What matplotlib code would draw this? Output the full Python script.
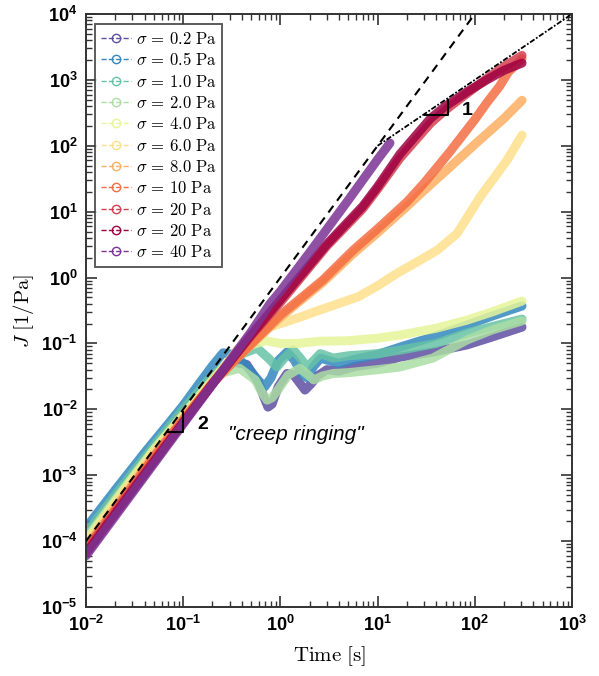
import numpy as np
import matplotlib
matplotlib.use("Agg")
import matplotlib.pyplot as plt
from matplotlib.lines import Line2D
from matplotlib.font_manager import FontProperties
from matplotlib.ticker import FuncFormatter, LogLocator, NullFormatter, FixedLocator

plt.rcParams['mathtext.fontset'] = 'custom'
plt.rcParams['mathtext.rm'] = 'Liberation Sans'
plt.rcParams['mathtext.it'] = 'Liberation Sans:italic'
plt.rcParams['mathtext.bf'] = 'Liberation Sans:bold'

# ---- creep compliance J(t) for each applied stress ----
t_s02 = [0.01, 0.02, 0.05, 0.1, 0.2, 0.325, 0.45, 0.6, 0.68, 0.745, 0.82, 0.95, 1.17, 1.35, 1.55, 1.79, 2.05, 2.4, 3.0, 4.0, 6.0, 10, 17, 37, 83, 150, 306]
J_s02 = [1.1e-4, 4.2e-4, 2.5e-3, 9e-3, 0.03, 0.052, 0.048, 0.025, 0.015, 0.0108, 0.012, 0.022, 0.035, 0.034, 0.026, 0.0196, 0.024, 0.032, 0.04, 0.038, 0.045, 0.05, 0.062, 0.074, 0.095, 0.125, 0.177]

t_s05 = [0.01, 0.02, 0.04, 0.07, 0.1, 0.15, 0.2, 0.257, 0.33, 0.45, 0.6, 0.69, 0.8, 0.95, 1.17, 1.4, 1.65, 1.88, 2.2, 2.6, 3.0, 4.0, 6.0, 10, 17, 40, 83, 150, 306]
J_s05 = [1.6e-4, 6e-4, 2.2e-3, 6e-3, 0.0115, 0.026, 0.046, 0.072, 0.068, 0.045, 0.027, 0.022, 0.03, 0.055, 0.074, 0.055, 0.035, 0.03, 0.045, 0.06, 0.056, 0.05, 0.058, 0.068, 0.088, 0.13, 0.19, 0.26, 0.37]

t_s1 = [0.01, 0.02, 0.05, 0.1, 0.2, 0.38, 0.575, 0.75, 0.92, 1.1, 1.35, 1.6, 1.88, 2.2, 2.57, 3.5, 5, 10, 17, 40, 83, 150, 306]
J_s1 = [1.3e-4, 5e-4, 2.8e-3, 0.01, 0.033, 0.067, 0.085, 0.06, 0.044, 0.06, 0.08, 0.06, 0.044, 0.055, 0.07, 0.06, 0.065, 0.07, 0.079, 0.1, 0.144, 0.18, 0.234]

t_s2 = [0.01, 0.02, 0.05, 0.1, 0.24, 0.38, 0.55, 0.66, 0.73, 0.82, 0.95, 1.2, 1.58, 1.9, 2.2, 2.7, 3.5, 5, 10, 17, 37, 83, 150, 306]
J_s2 = [1.1e-4, 4.3e-4, 2.5e-3, 8.5e-3, 0.035, 0.042, 0.028, 0.017, 0.0138, 0.015, 0.02, 0.033, 0.042, 0.034, 0.028, 0.032, 0.035, 0.036, 0.04, 0.044, 0.06, 0.113, 0.16, 0.22]

t_s4 = [0.01, 0.02, 0.05, 0.1, 0.2, 0.3, 0.45, 0.7, 1.0, 1.5, 2.5, 5, 10, 17, 40, 83, 150, 306]
J_s4 = [1.0e-4, 4e-4, 2.4e-3, 8e-3, 0.028, 0.055, 0.09, 0.11, 0.1, 0.1, 0.108, 0.11, 0.12, 0.134, 0.17, 0.226, 0.3, 0.44]

t_s6 = [0.01, 0.02, 0.05, 0.1, 0.2, 0.36, 0.62, 1.0, 1.58, 3.0, 6.3, 10, 16, 25, 41, 66, 113, 214, 306]
J_s6 = [9e-5, 3.6e-4, 2.2e-3, 7.5e-3, 0.026, 0.08, 0.16, 0.2, 0.25, 0.35, 0.51, 0.75, 1.17, 1.7, 2.6, 4.7, 16.6, 60, 145]

t_s8 = [0.01, 0.02, 0.05, 0.1, 0.2, 0.38, 1.0, 2.74, 5.6, 10, 20, 30, 47, 100, 200, 306]
J_s8 = [8e-5, 3.2e-4, 2e-3, 7e-3, 0.025, 0.065, 0.25, 0.85, 2.3, 4.8, 12, 21, 38, 105, 260, 490]

t_s10 = [0.01, 0.02, 0.05, 0.1, 0.2, 0.38, 1.0, 2.74, 5.6, 10, 20, 30, 55, 100, 133, 180, 220, 306]
J_s10 = [7.5e-5, 3e-4, 1.9e-3, 7e-3, 0.025, 0.066, 0.27, 0.92, 2.6, 5.5, 14, 27, 80, 250, 450, 800, 1300, 2100]

t_s20a = [0.01, 0.02, 0.05, 0.1, 0.2, 0.5, 1.0, 3.0, 7.0, 10, 17, 35, 50, 83, 133, 200, 306]
J_s20a = [7e-5, 2.8e-4, 1.7e-3, 6.5e-3, 0.025, 0.13, 0.42, 3.0, 11, 22, 65, 220, 350, 620, 1050, 1600, 2350]

t_s20b = [0.01, 0.02, 0.05, 0.1, 0.2, 0.5, 1.0, 3.0, 7.0, 10, 17, 35, 50, 83, 133, 200, 306]
J_s20b = [6.5e-5, 2.6e-4, 1.6e-3, 6.3e-3, 0.024, 0.135, 0.46, 3.2, 12, 24, 75, 260, 400, 660, 1000, 1400, 1800]

t_s40 = [0.01, 0.02, 0.05, 0.1, 0.2, 0.5, 0.78, 1.0, 2.0, 5.0, 10, 13.4]
J_s40 = [6e-5, 2.4e-4, 1.5e-3, 6e-3, 0.024, 0.15, 0.4, 0.62, 2.4, 15, 62, 110]

stress_labels = ["0.2", "0.5", "1.0", "2.0", "4.0", "6.0", "8.0", "10", "20", "20", "40"]
colors = ["#5e4fa2", "#3288bd", "#66c2a5", "#abdda4", "#e6f598", "#fee08b",
          "#fdae61", "#f46d43", "#d53e4f", "#9e0142", "#7b3294"]

x_ticks = [1e-2, 1e-1, 1e0, 1e1, 1e2, 1e3]
y_ticks = [1e-5, 1e-4, 1e-3, 1e-2, 1e-1, 1e0, 1e1, 1e2, 1e3, 1e4]

# guide lines: ballistic J ~ t^2 and viscous J ~ t
guide2_t = [0.01, 100]
guide2_J = [1e-4, 1e4]
guide1_t = [10, 1000]
guide1_J = [100, 1e4]

series = [(t_s02, J_s02), (t_s05, J_s05), (t_s1, J_s1), (t_s2, J_s2), (t_s4, J_s4),
          (t_s6, J_s6), (t_s8, J_s8), (t_s10, J_s10), (t_s20a, J_s20a),
          (t_s20b, J_s20b), (t_s40, J_s40)]

fig = plt.figure(figsize=(5.99, 6.76), dpi=100)
ax = fig.add_axes([86 / 599, 69 / 676, 486 / 599, 593 / 676])

for (t, J), c in zip(series, colors):
    ax.plot(t, J, color=c, lw=6.5, alpha=0.85, solid_capstyle='round',
            solid_joinstyle='round')

ax.plot(guide2_t, guide2_J, color='black', ls=(0, (4, 3)), lw=1.5, zorder=5)
ax.plot(guide1_t, guide1_J, color='black', ls=(0, (3, 1, 1, 1)), lw=1.3, zorder=5)

# slope triangles
ax.plot([0.07, 0.1, 0.1], [0.0045, 0.0045, 0.0092], color='black', lw=1.5, zorder=6)
ax.text(0.16, 0.0058, "2", fontsize=14, fontweight='bold', family='Liberation Sans',
        ha='center', va='center')
ax.plot([30.8, 53, 53], [292, 292, 500], color='black', lw=1.5, zorder=6)
ax.text(83, 347, "1", fontsize=14, fontweight='bold', family='Liberation Sans',
        ha='center', va='center')
ax.text(0.29, 0.0041, '"creep ringing"', fontsize=15, style='italic',
        family='Liberation Sans', ha='left', va='center')

ax.set_xscale('log')
ax.set_yscale('log')
ax.set_xlim(1e-2, 1e3)
ax.set_ylim(1e-5, 1e4)

fmt = FuncFormatter(lambda v, p: r"$\mathbf{10^{%d}}$" % int(round(np.log10(v))))
ax.xaxis.set_major_locator(FixedLocator(x_ticks))
ax.yaxis.set_major_locator(FixedLocator(y_ticks))
ax.xaxis.set_minor_locator(LogLocator(base=10, subs=np.arange(2, 10), numticks=20))
ax.yaxis.set_minor_locator(LogLocator(base=10, subs=np.arange(2, 10), numticks=20))
ax.xaxis.set_major_formatter(fmt)
ax.yaxis.set_major_formatter(fmt)
ax.xaxis.set_minor_formatter(NullFormatter())
ax.yaxis.set_minor_formatter(NullFormatter())
ax.tick_params(which='both', direction='in', top=True, right=True, labelsize=13,
               color='#333333')
ax.tick_params(which='major', length=8, width=1.2, pad=6)
ax.tick_params(which='minor', length=4, width=1.0)
for s in ax.spines.values():
    s.set_color('#333333')
    s.set_linewidth(1.4)

ax.set_xlabel(r"$\mathrm{Time\ [s]}$", fontsize=15, math_fontfamily='cm', labelpad=6)
ax.set_ylabel(r"$J\ \mathrm{[1/Pa]}$", fontsize=15, math_fontfamily='cm', labelpad=4)

handles = [Line2D([], [], color=c, ls='--', lw=1.0, marker='o', mfc='none',
                  ms=6, mew=1.0) for c in colors]
labels = [r"$\sigma\,=\,\mathrm{%s\ Pa}$" % s for s in stress_labels]
leg = ax.legend(handles, labels, loc='upper left', bbox_to_anchor=(0.0185, 0.983),
                borderaxespad=0, frameon=True, fancybox=False, edgecolor='#333333',
                prop=FontProperties(size=12, math_fontfamily='cm'),
                handlelength=1.8, handletextpad=0.3, labelspacing=0.2,
                borderpad=0.35)
leg.get_frame().set_linewidth(1.4)

fig.savefig("out.png", dpi=100)
